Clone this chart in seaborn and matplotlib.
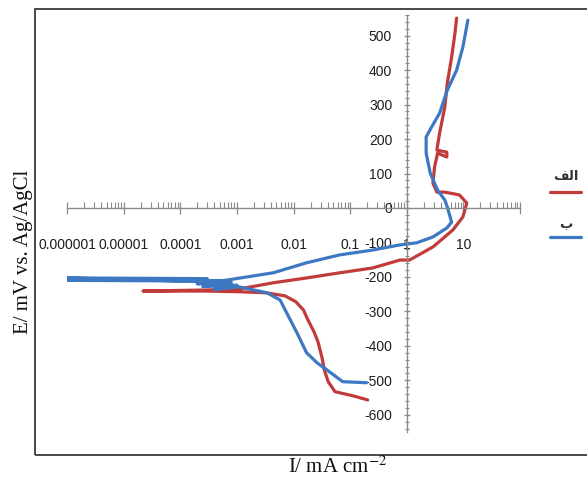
import matplotlib
matplotlib.use("Agg")
import matplotlib.pyplot as plt
import pandas as pd
import seaborn as sns
from matplotlib.lines import Line2D
from matplotlib.patches import Rectangle
from matplotlib.ticker import FixedLocator, LogLocator, MultipleLocator, NullFormatter

# Polarization curves: current density (mA cm^-2) vs potential (mV vs Ag/AgCl)
red_label = "\uFED2\uFEDF\uFE8D"   # "الف" in presentation forms (visual order)
blue_label = "\uFE8F"              # "ب"

red_I = [0.204, 0.112, 0.054, 0.041, 0.035, 0.032, 0.027, 0.023, 0.018, 0.015,
         0.011, 0.0071, 0.0032, 0.0011, 0.00028, 0.000022, 0.00028, 0.0011,
         0.0044, 0.017, 0.066, 0.25, 0.76, 1.12, 2.9, 6.5, 9.8, 11.5, 8.5, 4.7,
         3.4, 2.9, 3.1, 3.5, 5.1, 5.1, 3.4, 3.8, 4.7, 5.2, 6.2, 7.1, 7.6]
red_E = [-557, -545, -533, -504, -470, -435, -388, -359, -325, -296,
         -272, -255, -246, -243, -241, -241, -238, -235,
         -217, -203, -188, -174, -151, -151, -113, -64, -26, 14, 38, 46,
         46, 72, 119, 159, 148, 162, 168, 217, 293, 362, 438, 507, 551]

blue_I = [0.195, 0.074, 0.039, 0.026, 0.017, 0.0115, 0.0079, 0.0058, 0.0034,
          0.0011, 0.0004, 0.001, 0.00025, 0.0008, 0.0002, 0.0006, 0.00018,
          0.000001, 0.0003, 0.000001, 0.0005,
          0.00068, 0.0044, 0.017, 0.066, 0.25, 0.76, 1.5, 2.9, 5.1, 6.2, 5.2,
          4.7, 3.5, 2.6, 2.2, 2.2, 2.75, 3.8, 5.2, 7.6, 9.8, 12.0]
blue_E = [-507, -504, -470, -449, -420, -362, -310, -267, -246,
          -229, -236, -224, -228, -216, -220, -212, -213,
          -203, -205, -210, -212,
          -209, -188, -159, -136, -122, -107, -101, -84, -58, -41, 3,
          23, 52, 101, 159, 206, 235, 275, 342, 400, 467, 545]

x_ticks = [1e-6, 1e-5, 1e-4, 1e-3, 1e-2, 1e-1, 1, 10, 100]
x_tick_labels = ["0.000001", "0.00001", "0.0001", "0.001", "0.01", "0.1", "1", "10", ""]
y_ticks = [-600, -500, -400, -300, -200, -100, 0, 100, 200, 300, 400, 500]

RED = "#C23B3B"
BLUE = "#3D78C3"
AXIS_GRAY = "#8a8a8a"

df = pd.concat([
    pd.DataFrame({"I": red_I, "E": red_E, "curve": "red"}),
    pd.DataFrame({"I": blue_I, "E": blue_E, "curve": "blue"}),
], ignore_index=True)

sns.set_theme(style="white")
plt.rcParams["font.family"] = ["Liberation Sans", "DejaVu Sans"]
plt.rcParams["mathtext.fontset"] = "stix"
plt.rcParams["axes.unicode_minus"] = False

W, H = 587, 483
fig = plt.figure(figsize=(W / 100, H / 100), dpi=100)
fig.patch.set_facecolor("white")

# outer frame around the chart area
fig.patches.append(Rectangle((35 / W, 1 - 455 / H), 1.2, 446 / H,
                             transform=fig.transFigure, fill=False,
                             edgecolor="#3a3a3a", linewidth=1.3))

ax = fig.add_axes([67 / W, 1 - 432 / H, (520 - 67) / W, (432 - 15) / H])
ax.set_facecolor("none")

sns.lineplot(data=df, x="I", y="E", hue="curve", sort=False, estimator=None,
             palette={"red": RED, "blue": BLUE}, linewidth=2.3, legend=False,
             ax=ax)

ax.set_xscale("log")
ax.set_xlim(1e-6, 100)
ax.set_ylim(-650, 560)
ax.set_xlabel("")
ax.set_ylabel("")

# axes cross at I = 1 and E = 0
ax.spines["left"].set_position(("data", 1))
ax.spines["bottom"].set_position(("data", 0))
for s in ("top", "right"):
    ax.spines[s].set_visible(False)
for s in ("left", "bottom"):
    ax.spines[s].set_color(AXIS_GRAY)
    ax.spines[s].set_linewidth(1.0)

ax.xaxis.set_major_locator(FixedLocator(x_ticks))
ax.set_xticklabels(x_tick_labels)
ax.xaxis.set_minor_locator(LogLocator(base=10, subs=range(2, 10), numticks=20))
ax.xaxis.set_minor_formatter(NullFormatter())
ax.tick_params(axis="x", which="both", bottom=True, top=False)
ax.tick_params(axis="x", which="major", direction="inout", length=9, width=0.9,
               color=AXIS_GRAY, pad=17, labelsize=10, labelcolor="#1e1e1e")
ax.tick_params(axis="x", which="minor", direction="in", length=4, width=0.8,
               color=AXIS_GRAY)

ax.yaxis.set_major_locator(FixedLocator(y_ticks))
ax.yaxis.set_minor_locator(MultipleLocator(20))
ax.tick_params(axis="y", which="both", left=True, right=False)
ax.tick_params(axis="y", which="major", direction="inout", length=5, width=0.9,
               color=AXIS_GRAY, pad=8, labelsize=10, labelcolor="#1e1e1e")
ax.tick_params(axis="y", which="minor", direction="inout", length=3, width=0.8,
               color=AXIS_GRAY)
ax.grid(False)

# axis titles
fig.text(24 / W, 1 - 252 / H, "E/ mV vs. Ag/AgCl", rotation=90, ha="center",
         va="center", family="Liberation Serif", fontsize=15, color="#111111")
fig.text(338 / W, 1 - 467 / H, r"I/ mA cm$^{-2}$", ha="center", va="center",
         family="Liberation Serif", fontsize=15, color="#111111")

# legend keys at the right edge
for label, color, ty, ly in [(red_label, RED, 176, 192), (blue_label, BLUE, 225, 237)]:
    fig.text(566 / W, 1 - ty / H, label, ha="center", va="center",
             family=["DejaVu Sans"], fontsize=9.5, color="#333333",
             fontweight="bold")
    fig.lines.append(Line2D([550 / W, 581 / W], [1 - ly / H, 1 - ly / H],
                            transform=fig.transFigure, color=color, linewidth=2.3))

fig.savefig("out.png", dpi=100, facecolor="white")
